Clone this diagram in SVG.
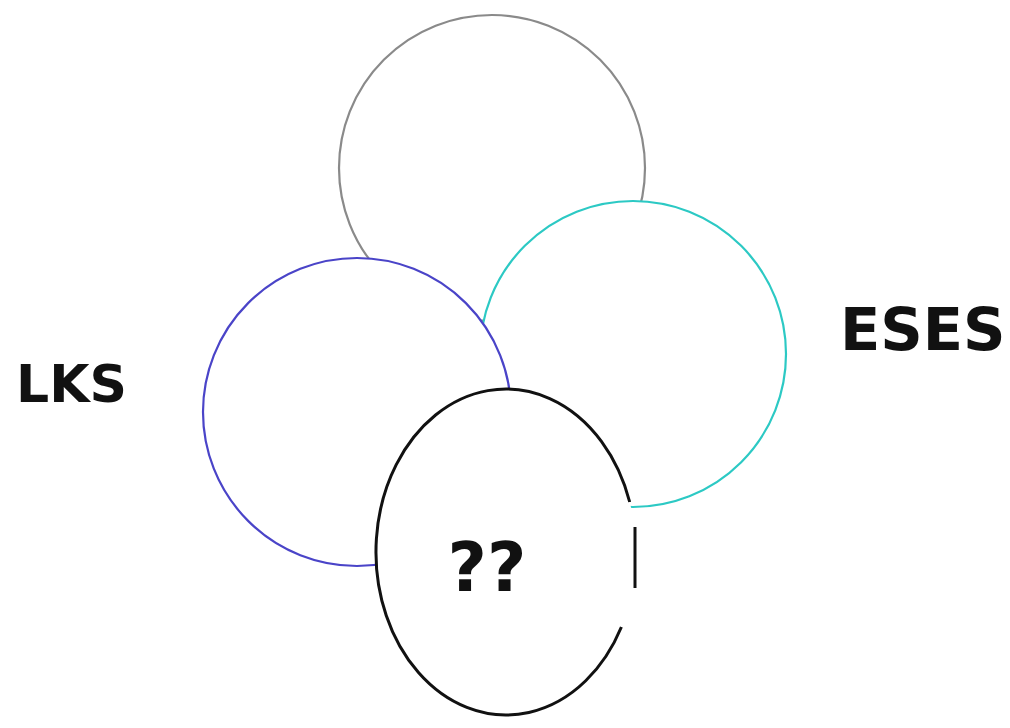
<svg xmlns="http://www.w3.org/2000/svg" width="1010" height="728" viewBox="0 0 1010 728">
<style>
.lbl{font-family:"DejaVu Sans","Liberation Sans",sans-serif;font-weight:bold;fill:#111}
.c{fill:#fff;stroke-width:2.2}
</style>
<rect width="1010" height="728" fill="#fff"/>
<g id="gray"><circle class="c" cx="492" cy="168" r="153" stroke="#8a8a8a"/></g>
<g id="cyan"><circle class="c" cx="633" cy="354" r="153" stroke="#2cc9c4" stroke-width="2.5"/></g>
<g id="blue"><circle class="c" cx="357" cy="412" r="154" stroke="#4a44c8"/></g>
<g id="unknown">
<ellipse cx="506" cy="552" rx="130" ry="163" fill="#fff" stroke="none"/>
<path d="M629.7,502 A130,163 0 1 0 621.4,627" fill="none" stroke="#111" stroke-width="3"/>
<line x1="635" y1="527" x2="635" y2="588" stroke="#111" stroke-width="3"/>
<text class="lbl" x="487" y="591" font-size="68" text-anchor="middle">??</text>
</g>
<g id="lks"><text class="lbl" x="16" y="402" font-size="52">LKS</text></g>
<g id="eses"><text class="lbl" x="840" y="350" font-size="59">ESES</text></g>
<g id="connectors"/>
</svg>
